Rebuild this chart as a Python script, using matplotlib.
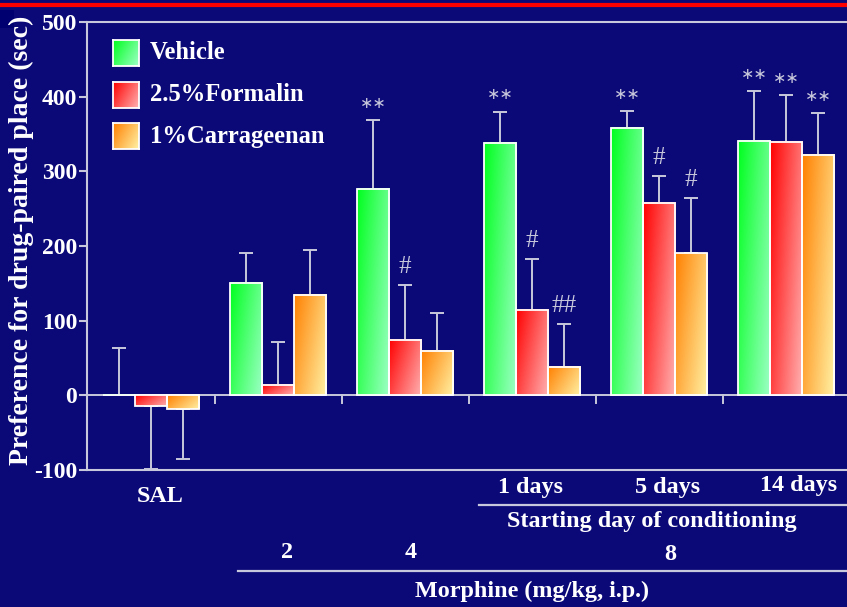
import numpy as np
import matplotlib.pyplot as plt
from matplotlib.patches import Rectangle
from matplotlib.lines import Line2D
from matplotlib.ticker import FuncFormatter

# =========================
# DATI
# =========================
groups = ["SAL", "M2", "M4", "M8 1d", "M8 5d", "M8 14d"]
series = ["Vehicle", "2.5%Formalin", "1%Carrageenan"]

vehicle = [1, 151, 276, 338, 358, 341]
vehicle_err = [63, 40, 93, 42, 23, 66]
formalin = [-14, 14, 74, 114, 258, 339]
formalin_err = [85, 58, 74, 68, 36, 63]
carrageenan = [-18, 134, 59, 38, 190, 322]
carrageenan_err = [67, 60, 51, 57, 74, 56]

# (gruppo, serie, testo)
marks = [(2, 0, "**"), (3, 0, "**"), (4, 0, "**"), (5, 0, "**"), (5, 1, "**"), (5, 2, "**"),
         (2, 1, "#"), (3, 1, "#"), (4, 1, "#"), (4, 2, "#"), (3, 2, "##")]

# =========================
# STILE
# =========================
BG = "#0b0878"
LINE = "#c8c8dc"
grad = [((0.0, 1.0, 0.12), (0.62, 1.0, 0.78)),
        ((1.0, 0.0, 0.0), (1.0, 0.70, 0.70)),
        ((1.0, 0.50, 0.0), (1.0, 0.95, 0.65))]
plt.rcParams['font.family'] = ['Liberation Serif', 'DejaVu Serif']

W, H = 847, 607
fig = plt.figure(figsize=(W / 100, H / 100), dpi=100, facecolor=BG)
ax = fig.add_axes([87 / W, 1 - 470 / H, 760 / W, 448 / H], facecolor=BG)


def grad_img(c0, c1, n=64):
    u = np.linspace(0, 1, n)
    U, V = np.meshgrid(u, u)
    t = 0.65 * U + 0.35 * V
    c0 = np.array(c0); c1 = np.array(c1)
    return (1 - t)[..., None] * c0 + t[..., None] * c1


def grad_bar(ax, x0, w, h, c0, c1):
    y0, y1 = min(0, h), max(0, h)
    ax.imshow(grad_img(c0, c1), extent=(x0, x0 + w, y0, y1), origin='upper',
              aspect='auto', zorder=2, interpolation='bilinear')
    ax.add_patch(Rectangle((x0, y0), w, y1 - y0, facecolor='none',
                           edgecolor='white', lw=1.3, zorder=3))


x = np.arange(len(groups))
bw = 0.252
vals = [vehicle, formalin, carrageenan]
errs = [vehicle_err, formalin_err, carrageenan_err]

for i, (v, e) in enumerate(zip(vals, errs)):
    xs = x + (i - 1) * bw
    for xi, vi, ei in zip(xs, v, e):
        grad_bar(ax, xi - bw / 2, bw, vi, *grad[i])
        sign = 1 if vi >= 0 else -1
        ax.errorbar(xi, vi, yerr=[[0], [ei]] if sign > 0 else [[ei], [0]],
                    fmt='none', ecolor=LINE, elinewidth=1.4, capsize=5,
                    capthick=1.4, zorder=1)

for g, s, txt in marks:
    v = vals[s][g]
    e = errs[s][g]
    xi = x[g] + (s - 1) * bw
    if txt == "**":
        ax.annotate("\u2217\u2217", (xi, v + e), xytext=(0, 12), textcoords='offset points',
                    ha='center', va='center', color=LINE, fontsize=11.5,
                    family='DejaVu Sans', zorder=4)
    else:
        ax.annotate(txt, (xi, v + e), xytext=(0, 13), textcoords='offset points',
                    ha='center', va='center', color=LINE, fontsize=18, zorder=4)

# linea dello zero con tacche tra i gruppi
ax.axhline(0, color=LINE, lw=1.4, zorder=1)
for b in x[:-1] + 0.5:
    ax.plot([b, b], [0, -10], color=LINE, lw=1.4, zorder=1)

ax.set_xlim(-0.504, 5.48)
ax.set_ylim(-100, 500)
ax.set_yticks([-100, 0, 100, 200, 300, 400, 500])
ax.yaxis.set_major_formatter(FuncFormatter(lambda v, p: f"{v:.0f}"))
ax.set_xticks([])
for side in ['left', 'bottom', 'top']:
    ax.spines[side].set_color(LINE)
    ax.spines[side].set_linewidth(1.5)
ax.spines['right'].set_visible(False)
ax.tick_params(axis='y', colors=LINE, length=6, width=1.5, labelcolor='white',
               labelsize=17, pad=1)
for lab in ax.get_yticklabels():
    lab.set_fontweight('bold')

# legenda
for i, name in enumerate(series):
    top = 0.960 - i * 0.093
    sw = ax.inset_axes([0.034, top - 0.058, 0.034, 0.058])
    sw.imshow(grad_img(*grad[i]), aspect='auto', interpolation='bilinear')
    sw.set_xticks([]); sw.set_yticks([])
    for sp in sw.spines.values():
        sp.set_color('white'); sp.set_linewidth(1.3)
    ax.text(0.083, top - 0.029, name, transform=ax.transAxes, color='white',
            fontsize=17.7, fontweight='bold', va='center', ha='left')

# testi asse x
def ftext(px, py, s, **kw):
    fig.text(px / W, 1 - py / H, s, color='white', fontweight='bold',
             ha='center', va='center', **kw)

fs = 17.4
ftext(160, 496, "SAL", fontsize=fs)
ftext(530, 488, "1 days", fontsize=fs)
ftext(668, 488, "5 days", fontsize=fs)
ftext(799, 486, "14 days", fontsize=fs)
ftext(652, 522, "Starting day of conditioning", fontsize=fs)
ftext(287, 553, "2", fontsize=fs)
ftext(411, 553, "4", fontsize=fs)
ftext(670, 555, "8", fontsize=fs)
ftext(532, 591, "Morphine (mg/kg, i.p.)", fontsize=fs)
ftext(21, 240, "Preference for drug-paired place (sec)", fontsize=20, rotation=90)

fig.add_artist(Line2D([479 / W, 1], [1 - 505 / H] * 2, color=LINE, lw=1.6))
fig.add_artist(Line2D([238 / W, 1], [1 - 571 / H] * 2, color=LINE, lw=1.6))

# decorazioni della slide
fig.add_artist(Line2D([0, 1], [1 - 5 / H] * 2, color='#ff0000', lw=3))
fig.patches.append(Rectangle((0, 1 - 28 / H), 14 / W, 18 / H, transform=fig.transFigure,
                             facecolor='#000070', edgecolor='none'))

plt.savefig("out.png", dpi=100, facecolor=BG)
